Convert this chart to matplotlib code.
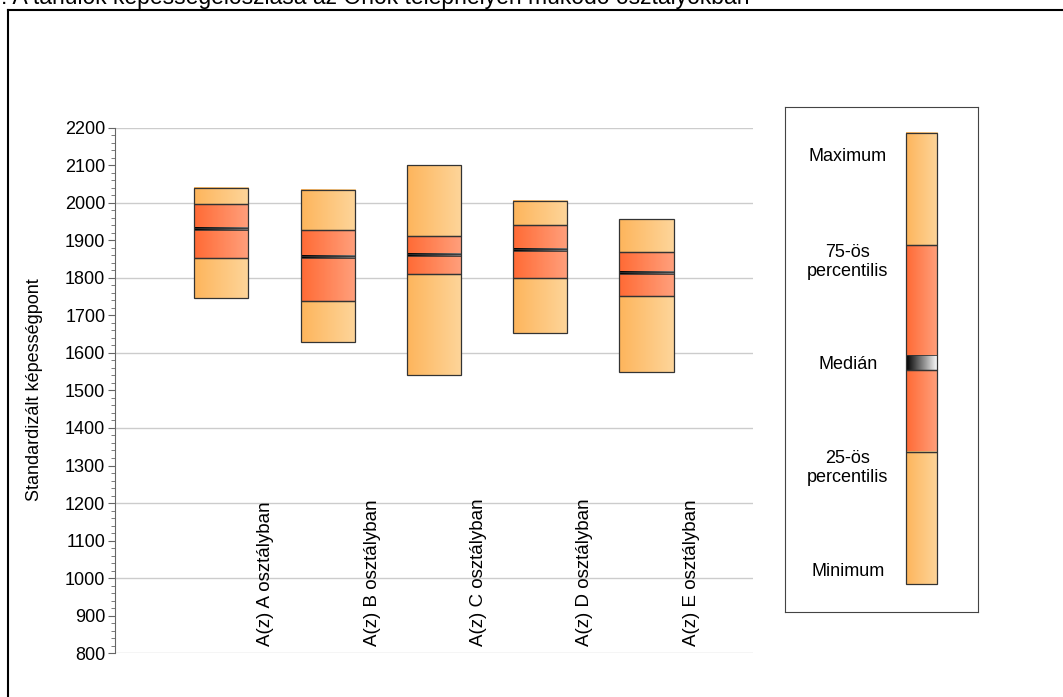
import numpy as np
import matplotlib
matplotlib.use("Agg")
import matplotlib.pyplot as plt
from matplotlib.patches import Rectangle
from matplotlib.ticker import MultipleLocator

plt.rcParams['font.family'] = ['Liberation Sans', 'DejaVu Sans']

# data
classes = ['A(z) A osztályban', 'A(z) B osztályban', 'A(z) C osztályban',
           'A(z) D osztályban', 'A(z) E osztályban']
mins = [1746, 1630, 1541, 1653, 1548]
q1 = [1853, 1739, 1810, 1801, 1753]
medians = [1931, 1856, 1862, 1875, 1814]
q3 = [1997, 1928, 1912, 1940, 1870]
maxs = [2040, 2035, 2101, 2004, 1956]

title = 'l: A tanulók képességeloszlása az Önök telephelyén működő osztályokban'
ylabel = 'Standardizált képességpont'
legend_labels = ['Maximum', '75-ös\npercentilis', 'Medián', '25-ös\npercentilis', 'Minimum']

ORANGE = ('#fdb55c', '#fed59a')
RED = ('#ff6a35', '#ffa07c')
MED = ('#000000', '#ffffff')


def grad_rect(ax, x0, x1, y0, y1, cols, transform=None, lw=0.9):
    c0 = np.array(matplotlib.colors.to_rgb(cols[0]))
    c1 = np.array(matplotlib.colors.to_rgb(cols[1]))
    t = np.linspace(0, 1, 64)[None, :, None]
    img = c0 + (c1 - c0) * t
    kw = {} if transform is None else {'transform': transform}
    ax.imshow(img, extent=(x0, x1, y0, y1), aspect='auto', origin='lower',
              interpolation='bilinear', zorder=3, **kw)
    ax.add_patch(Rectangle((x0, y0), x1 - x0, y1 - y0, fill=False,
                           edgecolor='#333333', lw=lw, zorder=4, **kw))


fig = plt.figure(figsize=(10.63, 6.97), dpi=100)

# outer frame (left and top lines) and clipped title
fig.add_artist(plt.Line2D([0.0075, 0.0075], [0, 0.986], color='black', lw=1.5))
fig.add_artist(plt.Line2D([0.0075, 1], [0.986, 0.986], color='black', lw=1.5))
fig.text(-0.004, 1 - 4 / 697, title, fontsize=16.5, ha='left', va='baseline')

ax = fig.add_axes([0.1082, 0.0631, 0.600, 0.7533])
w = 0.51
for i in range(len(classes)):
    x = i + 1
    grad_rect(ax, x - w / 2, x + w / 2, mins[i], q1[i], ORANGE)
    grad_rect(ax, x - w / 2, x + w / 2, q1[i], q3[i], RED)
    grad_rect(ax, x - w / 2, x + w / 2, q3[i], maxs[i], ORANGE)
    grad_rect(ax, x - w / 2, x + w / 2, medians[i] - 3, medians[i] + 3,
              ('#000000', '#777777'), lw=0.6)
    ax.text(x + 0.42, 818, classes[i], rotation=90, ha='center', va='bottom',
            fontsize=13.5, zorder=5)

ax.set_xlim(0, 6)
ax.set_ylim(800, 2200)
ax.yaxis.set_minor_locator(MultipleLocator(20))
ax.set_yticks(np.arange(800, 2201, 100))
for v in np.arange(800, 2201, 200):
    ax.axhline(v, color='#cccccc', lw=1, zorder=1)
ax.set_xticks([])
for s in ['top', 'right', 'bottom']:
    ax.spines[s].set_visible(False)
ax.spines['left'].set_color('#666666')
ax.tick_params(axis='y', which='major', length=5, color='#666666', labelsize=13, pad=2)
ax.tick_params(axis='y', which='minor', length=3, color='#666666')
fig.text(35 / 1063, 1 - 390 / 697, ylabel, rotation=90, ha='center', va='center',
         fontsize=13)

# legend panel
lax = fig.add_axes([0.7385, 0.122, 0.1816, 0.7245])
lax.set_xlim(0, 1)
lax.set_ylim(0, 1)
lax.set_xticks([])
lax.set_yticks([])
for s in lax.spines.values():
    s.set_color('#444444')
bx0, bx1 = 0.627, 0.788
grad_rect(lax, bx0, bx1, 0.7267, 0.9485, ORANGE)
grad_rect(lax, bx0, bx1, 0.4792, 0.7267, RED)
grad_rect(lax, bx0, bx1, 0.3168, 0.4792, RED)
grad_rect(lax, bx0, bx1, 0.0554, 0.3168, ORANGE)
grad_rect(lax, bx0, bx1, 0.4792, 0.5089, MED, lw=0.6)
for lab, yy in zip(legend_labels, [0.901, 0.693, 0.491, 0.285, 0.081]):
    lax.text(0.326, yy, lab, ha='center', va='center', fontsize=13)

fig.savefig('out.png', dpi=100)
